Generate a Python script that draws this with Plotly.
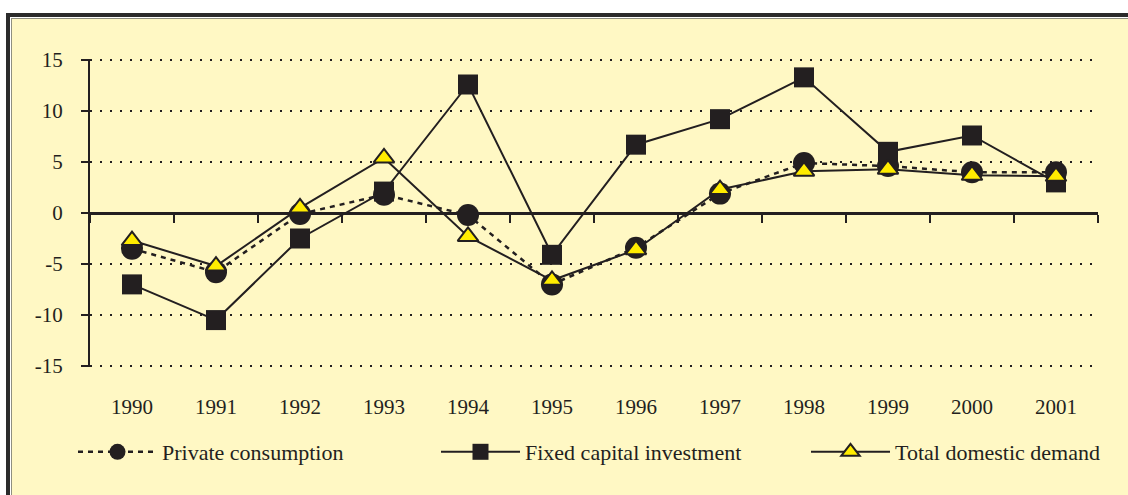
import plotly.graph_objects as go

years = ["1990", "1991", "1992", "1993", "1994", "1995", "1996", "1997", "1998", "1999", "2000", "2001"]
private_consumption = [-3.5, -5.8, -0.1, 1.8, -0.2, -7.0, -3.4, 1.9, 4.9, 4.6, 4.0, 4.0]
fixed_investment = [-7.0, -10.5, -2.5, 2.1, 12.6, -4.1, 6.7, 9.2, 13.3, 6.0, 7.6, 3.0]
total_demand = [-2.7, -5.2, 0.5, 5.4, -2.3, -6.6, -3.6, 2.3, 4.1, 4.3, 3.7, 3.6]
y_ticks = [-15, -10, -5, 0, 5, 10, 15]
y_tick_text = ["-15", "-10", "-5", "0", "5", "10", "15"]

W, H = 1128, 495
ML, MR, MT, MB = 90, 30, 59, 128
PW, PH = W - ML - MR, H - MT - MB

def px_x(p):
    return (p - ML) / PW

def px_y(p):
    return (H - MB - p) / PH

DARK = "#231F20"
BG = "#FFF8C4"
FONT = "Liberation Serif"

fig = go.Figure()
fig.add_trace(go.Scatter(
    x=years, y=private_consumption, name="Private consumption", mode="lines+markers",
    line=dict(color=DARK, width=2.5, dash="5px,5px"),
    marker=dict(symbol="circle", size=22, color=DARK),
    legend="legend",
))
fig.add_trace(go.Scatter(
    x=years, y=fixed_investment, name="Fixed capital investment", mode="lines+markers",
    line=dict(color=DARK, width=2),
    marker=dict(symbol="square", size=20, color=DARK),
    legend="legend2",
))
fig.add_trace(go.Scatter(
    x=years, y=total_demand, name="Total domestic demand", mode="lines+markers",
    line=dict(color=DARK, width=2),
    marker=dict(symbol="triangle-up", size=18, color="#FFEC00", line=dict(color=DARK, width=2)),
    legend="legend3",
))

shapes = []
far_r, far_b = px_x(W + 50), px_y(H + 50)
for (x0, y0, col) in [(6, 13, "#2b2b2b"), (10, 17, "#ffffff"), (11, 18, "#8f8f80"), (12, 19, BG)]:
    shapes.append(dict(type="rect", xref="paper", yref="paper", layer="below",
                       x0=px_x(x0), x1=far_r, y0=far_b, y1=px_y(y0),
                       fillcolor=col, line=dict(width=0)))

def legend_at(xpx):
    return dict(
        orientation="h", xref="container", yref="container",
        x=xpx / W, xanchor="left", y=1 - 452 / H, yanchor="middle",
        bgcolor="rgba(0,0,0,0)", itemwidth=79,
        font=dict(family=FONT, size=22, color=DARK),
    )

fig.update_layout(
    width=W, height=H,
    margin=dict(l=ML, r=MR, t=MT, b=MB, autoexpand=False),
    paper_bgcolor="#ffffff", plot_bgcolor="rgba(0,0,0,0)",
    shapes=shapes,
    font=dict(family=FONT, color=DARK, size=21),
    xaxis=dict(
        type="category", categoryarray=years, range=[-0.5, 11.5],
        anchor="free", position=0.5,
        showline=True, linecolor=DARK, linewidth=2.5,
        ticks="outside", tickson="boundaries", ticklen=8, tickwidth=2, tickcolor=DARK,
        ticklabelstandoff=174,
        showgrid=False, zeroline=False,
        tickfont=dict(family=FONT, size=21, color=DARK),
    ),
    yaxis=dict(
        range=[-15.1, 15.1], tickvals=y_ticks, ticktext=y_tick_text,
        showline=True, linecolor=DARK, linewidth=2,
        ticks="outside", ticklen=7, tickwidth=2, tickcolor=DARK,
        ticklabelstandoff=14,
        showgrid=True, gridcolor=DARK, gridwidth=2, griddash="2px,8px",
        zeroline=False,
        tickfont=dict(family=FONT, size=21, color=DARK),
    ),
    showlegend=True,
    legend=legend_at(73),
    legend2=legend_at(436),
    legend3=legend_at(806),
)

fig.write_html(
    "out.html",
    config={"displayModeBar": False},
    post_script="document.body.style.margin='0px';document.body.style.overflow='hidden';",
)
